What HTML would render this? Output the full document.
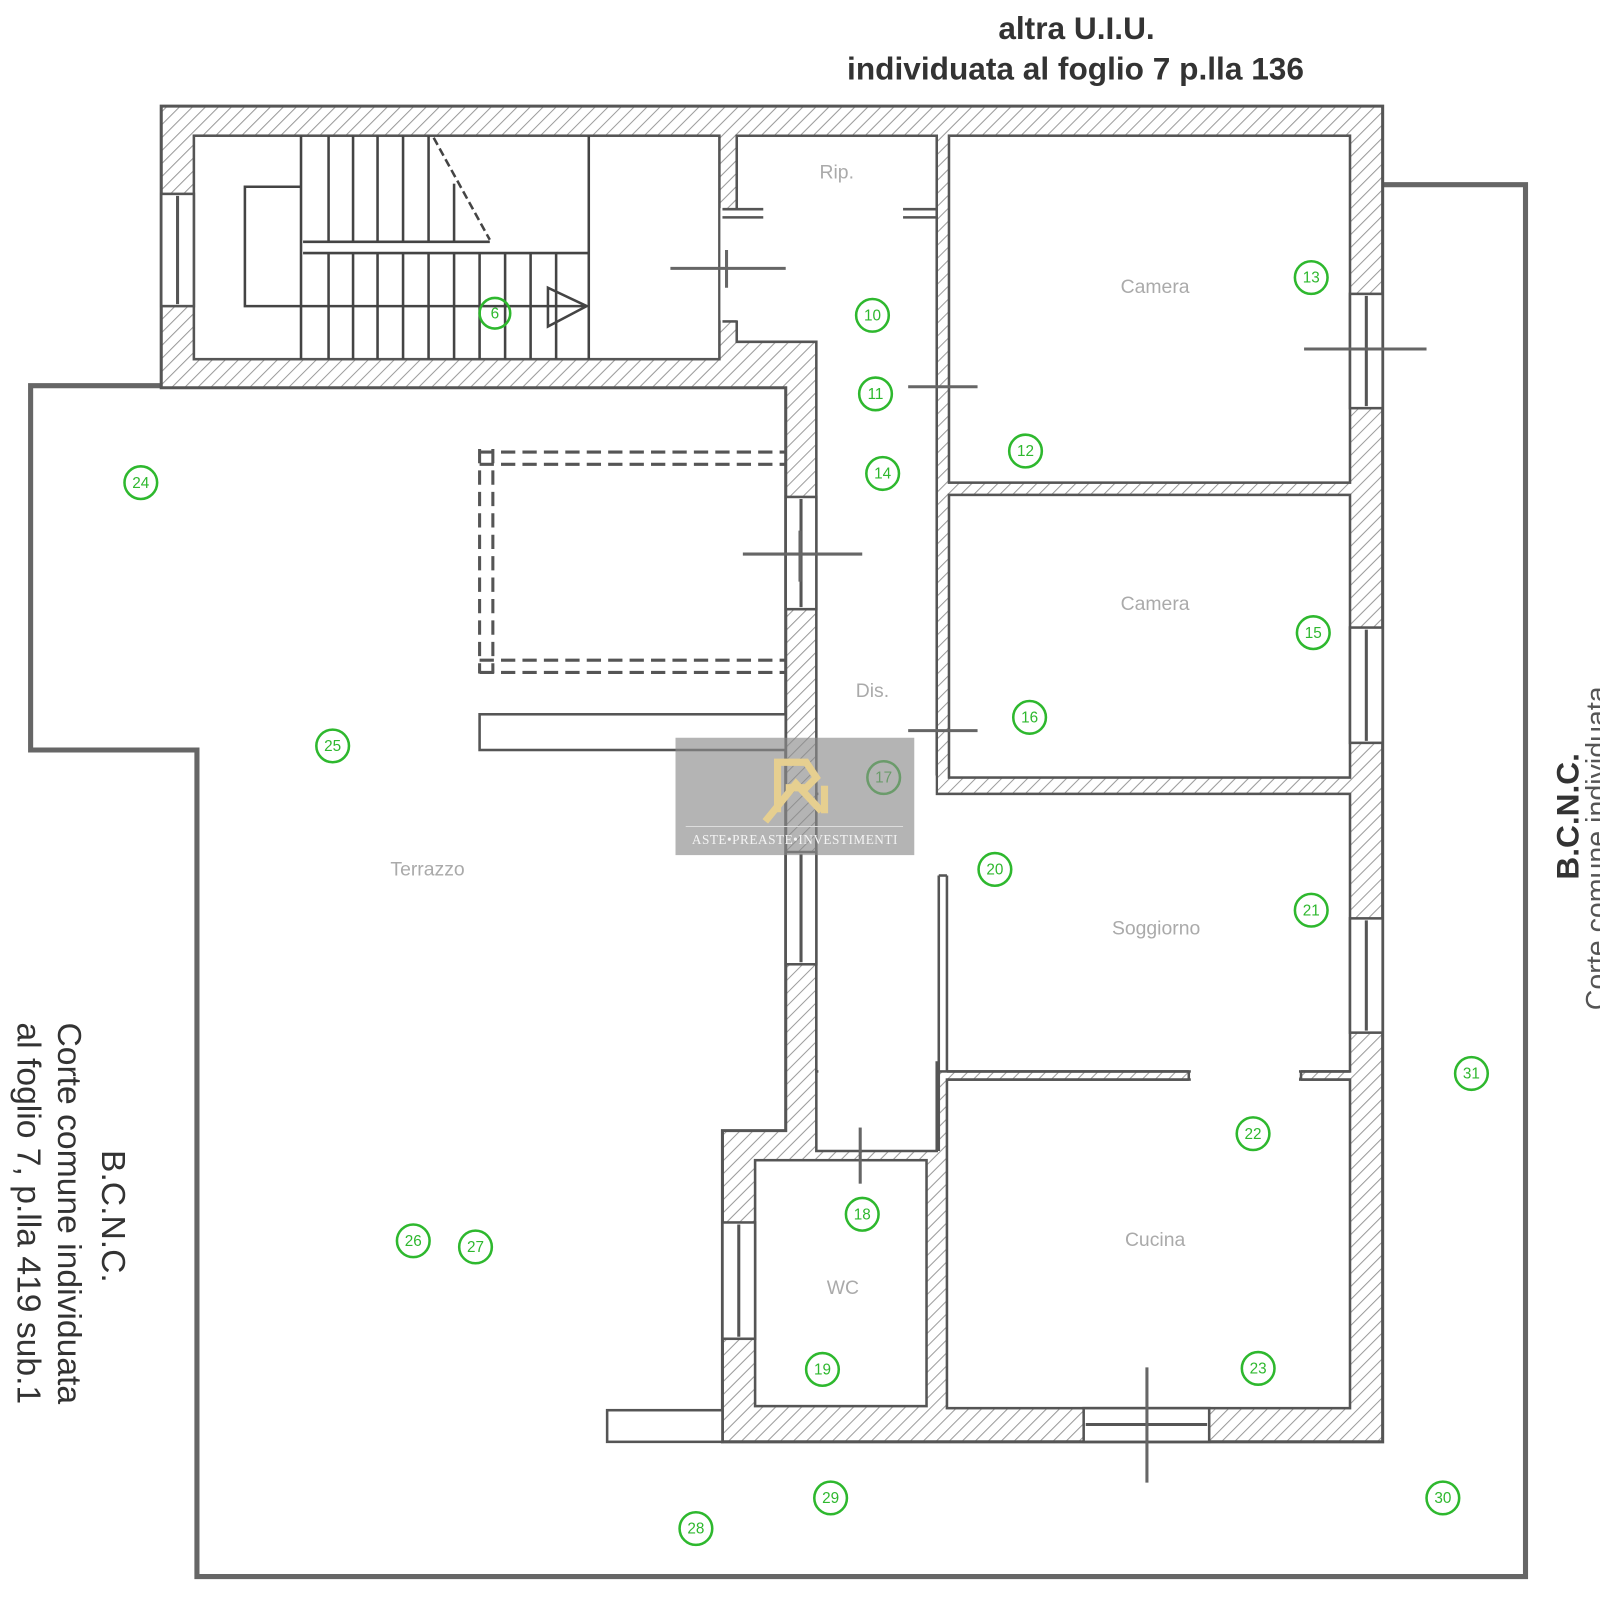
<!DOCTYPE html>
<html><head><meta charset="utf-8"><style>
html,body{margin:0;padding:0;background:#fff;}
svg{display:block;}
</style></head><body>
<svg width="1600" height="1600" viewBox="0 0 1568 1568" xmlns="http://www.w3.org/2000/svg" font-family="Liberation Sans, sans-serif">
<defs>
<pattern id="h" patternUnits="userSpaceOnUse" width="9" height="9" patternTransform="rotate(45)">
<rect width="9" height="9" fill="#fff"/><line x1="0" y1="0" x2="0" y2="9" stroke="#9a9a9a" stroke-width="2"/>
</pattern>
</defs>
<rect width="1568" height="1568" fill="#fff"/>
<polyline points="158,378 30,378 30,735 193,735 193,1545 1495,1545 1495,181 1355,181" fill="none" stroke="#666" stroke-width="5"/>
<polygon points="158,104 1355,104 1355,1413 708,1413 708,1108 770,1108 770,380 158,380" fill="url(#h)" stroke="#555" stroke-width="3"/>
<g fill="#fff" stroke="#555" stroke-width="2.5">
<rect x="190" y="133" width="515" height="219"/>
<polygon points="722,133 918,133 918,1128 800,1128 800,335 722,335"/>
<rect x="930" y="133" width="393" height="340"/>
<rect x="930" y="485" width="393" height="277"/>
<rect x="800" y="778" width="523" height="272"/>
<rect x="928" y="1058" width="395" height="322"/>
<rect x="740" y="1137" width="168" height="241"/>
</g>
<g fill="#fff" stroke="none">
<rect x="802" y="760" width="115" height="40"/>
<rect x="802" y="1040" width="115" height="86"/>
<rect x="1167" y="1048" width="106" height="12"/>
<rect x="920" y="780" width="8" height="76"/>
<rect x="706" y="204" width="18" height="110"/>
</g>
<g stroke="#555" stroke-width="2.5" fill="none">
<line x1="918" y1="1040" x2="918" y2="1128"/>
<line x1="920" y1="858" x2="920" y2="1128"/><line x1="928" y1="858" x2="928" y2="1050"/>
<line x1="920" y1="858" x2="928" y2="858"/>
<line x1="928" y1="1050" x2="1165" y2="1050"/><line x1="928" y1="1058" x2="1165" y2="1058"/><line x1="1165" y1="1050" x2="1165" y2="1058"/>
<line x1="1275" y1="1050" x2="1323" y2="1050"/><line x1="1275" y1="1058" x2="1323" y2="1058"/><line x1="1275" y1="1050" x2="1275" y2="1058"/>
<line x1="708" y1="205" x2="748" y2="205"/><line x1="708" y1="213" x2="748" y2="213"/>
<line x1="885" y1="205" x2="918" y2="205"/><line x1="885" y1="213" x2="918" y2="213"/>
<line x1="708" y1="315" x2="722" y2="315"/>
</g>
<g fill="#fff" stroke="#555" stroke-width="2.5">
<rect x="158" y="190" width="32" height="110"/>
<rect x="1323" y="288" width="32" height="112"/>
<rect x="1323" y="615" width="32" height="113"/>
<rect x="1323" y="900" width="32" height="112"/>
<rect x="770" y="487" width="30" height="110"/>
<rect x="770" y="835" width="30" height="110"/>
<rect x="708" y="1198" width="32" height="114"/>
<rect x="1062" y="1380" width="123" height="33"/>
</g>
<g stroke="#555" stroke-width="3">
<line x1="174" y1="192" x2="174" y2="298"/><line x1="1339" y1="290" x2="1339" y2="398"/><line x1="1339" y1="617" x2="1339" y2="726"/>
<line x1="1339" y1="902" x2="1339" y2="1010"/><line x1="785" y1="489" x2="785" y2="595"/><line x1="785" y1="837" x2="785" y2="943"/>
<line x1="724" y1="1200" x2="724" y2="1310"/><line x1="1064" y1="1396" x2="1183" y2="1396"/>
</g>
<g stroke="#666" stroke-width="3">
<line x1="657" y1="263" x2="770" y2="263"/><line x1="712" y1="245" x2="712" y2="282"/>
<line x1="1278" y1="342" x2="1398" y2="342"/>
<line x1="728" y1="543" x2="845" y2="543"/><line x1="784" y1="520" x2="784" y2="570"/>
<line x1="890" y1="379" x2="958" y2="379"/><line x1="890" y1="716" x2="958" y2="716"/>
<line x1="843" y1="1105" x2="843" y2="1160"/><line x1="1124" y1="1340" x2="1124" y2="1453"/>
</g>
<g stroke="#444" stroke-width="2.5" fill="none">
<polyline points="295,183 240,183 240,300 575,300"/>
<line x1="297" y1="248" x2="578" y2="248"/>
<line x1="297" y1="237" x2="480" y2="237"/>
<line x1="577" y1="133" x2="577" y2="352"/>
<line x1="295" y1="133" x2="295" y2="352"/>
<line x1="322" y1="133" x2="322" y2="237"/><line x1="346" y1="133" x2="346" y2="237"/><line x1="370" y1="133" x2="370" y2="237"/><line x1="395" y1="133" x2="395" y2="237"/><line x1="420" y1="133" x2="420" y2="237"/><line x1="445" y1="180" x2="445" y2="237"/>
<line x1="322" y1="248" x2="322" y2="352"/><line x1="346" y1="248" x2="346" y2="352"/><line x1="370" y1="248" x2="370" y2="352"/><line x1="395" y1="248" x2="395" y2="352"/><line x1="420" y1="248" x2="420" y2="352"/><line x1="445" y1="248" x2="445" y2="352"/><line x1="470" y1="248" x2="470" y2="352"/><line x1="495" y1="248" x2="495" y2="352"/><line x1="520" y1="248" x2="520" y2="352"/><line x1="545" y1="248" x2="545" y2="352"/>
<line x1="425" y1="135" x2="480" y2="235" stroke-dasharray="8,4"/>
<polygon points="537,282 575,300 537,320"/>
</g>
<g stroke="#555" stroke-width="2.5" fill="none">
<rect x="470" y="700" width="300" height="35" fill="#fff"/>
<rect x="595" y="1382" width="113" height="31" fill="#fff"/>
<g stroke-dasharray="14,7" stroke-width="3">
<line x1="470" y1="443" x2="770" y2="443"/><line x1="470" y1="455" x2="770" y2="455"/>
<line x1="470" y1="647" x2="770" y2="647"/><line x1="470" y1="659" x2="770" y2="659"/>
<line x1="470" y1="440" x2="470" y2="660"/><line x1="483" y1="440" x2="483" y2="660"/>
</g>
</g>
<g fill="#aaa" font-size="19" text-anchor="middle">
<text x="820" y="175">Rip.</text>
<text x="1132" y="287">Camera</text>
<text x="1132" y="598">Camera</text>
<text x="855" y="683">Dis.</text>
<text x="1133" y="916">Soggiorno</text>
<text x="1132" y="1221">Cucina</text>
<text x="826" y="1268">WC</text>
<text x="419" y="858">Terrazzo</text>
</g>
<g fill="none" stroke="#2eb82e" stroke-width="2.5">
<circle cx="485" cy="307" r="15"/><circle cx="855" cy="309" r="16"/><circle cx="858" cy="386" r="16"/><circle cx="865" cy="464" r="16"/>
<circle cx="1285" cy="272" r="16"/><circle cx="1005" cy="442" r="16"/><circle cx="138" cy="473" r="16"/><circle cx="1287" cy="620" r="16"/>
<circle cx="1009" cy="703" r="16"/><circle cx="326" cy="731" r="16"/><circle cx="866" cy="762" r="16"/><circle cx="975" cy="852" r="16"/>
<circle cx="1285" cy="892" r="16"/><circle cx="1442" cy="1052" r="16"/><circle cx="1228" cy="1111" r="16"/><circle cx="845" cy="1190" r="16"/>
<circle cx="405" cy="1216" r="16"/><circle cx="466" cy="1222" r="16"/><circle cx="806" cy="1342" r="16"/><circle cx="1233" cy="1341" r="16"/>
<circle cx="814" cy="1468" r="16"/><circle cx="682" cy="1498" r="16"/><circle cx="1414" cy="1468" r="16"/>
</g>
<g fill="#2eb82e" font-size="15" text-anchor="middle">
<text x="485" y="312">6</text><text x="855" y="314">10</text><text x="858" y="391">11</text><text x="865" y="469">14</text>
<text x="1285" y="277">13</text><text x="1005" y="447">12</text><text x="138" y="478">24</text><text x="1287" y="625">15</text>
<text x="1009" y="708">16</text><text x="326" y="736">25</text><text x="866" y="767">17</text><text x="975" y="857">20</text>
<text x="1285" y="897">21</text><text x="1442" y="1057">31</text><text x="1228" y="1116">22</text><text x="845" y="1195">18</text>
<text x="405" y="1221">26</text><text x="466" y="1227">27</text><text x="806" y="1347">19</text><text x="1233" y="1346">23</text>
<text x="814" y="1473">29</text><text x="682" y="1503">28</text><text x="1414" y="1473">30</text>
</g>
<g fill="#333" font-size="31" font-weight="bold" text-anchor="middle">
<text x="1055" y="38">altra U.I.U.</text>
<text x="1054" y="78">individuata al foglio 7 p.lla 136</text>
</g>
<g fill="#333" font-size="33">
<text transform="translate(1547,862) rotate(-90)" font-weight="bold" font-size="31">B.C.N.C.</text>
<text transform="translate(100,1127) rotate(90)">B.C.N.C.</text>
<text transform="translate(57,1002) rotate(90)">Corte comune individuata</text>
<text transform="translate(17,1002) rotate(90)">al foglio 7, p.lla 419 sub.1</text>
</g>
<text transform="translate(1574,990) rotate(-90)" fill="#555" font-size="28">Corte comune individuata</text>
<rect x="662" y="723" width="234" height="115" fill="#8c8c8c" fill-opacity="0.65"/>
<g fill="none" stroke="#e6cf90" stroke-width="7">
<polyline points="762,796 762,747 790,747 800,762 790,772 770,772"/>
<polyline points="750,805 780,768 805,795"/>
<line x1="808" y1="770" x2="808" y2="797"/>
</g>
<line x1="672" y1="810" x2="885" y2="810" stroke="#ddd" stroke-width="1"/>
<text x="779" y="827" fill="#f4f4f4" font-size="13" font-family="Liberation Serif, serif" text-anchor="middle" letter-spacing="0.5">ASTE•PREASTE•INVESTIMENTI</text>
</svg>
</body></html>
